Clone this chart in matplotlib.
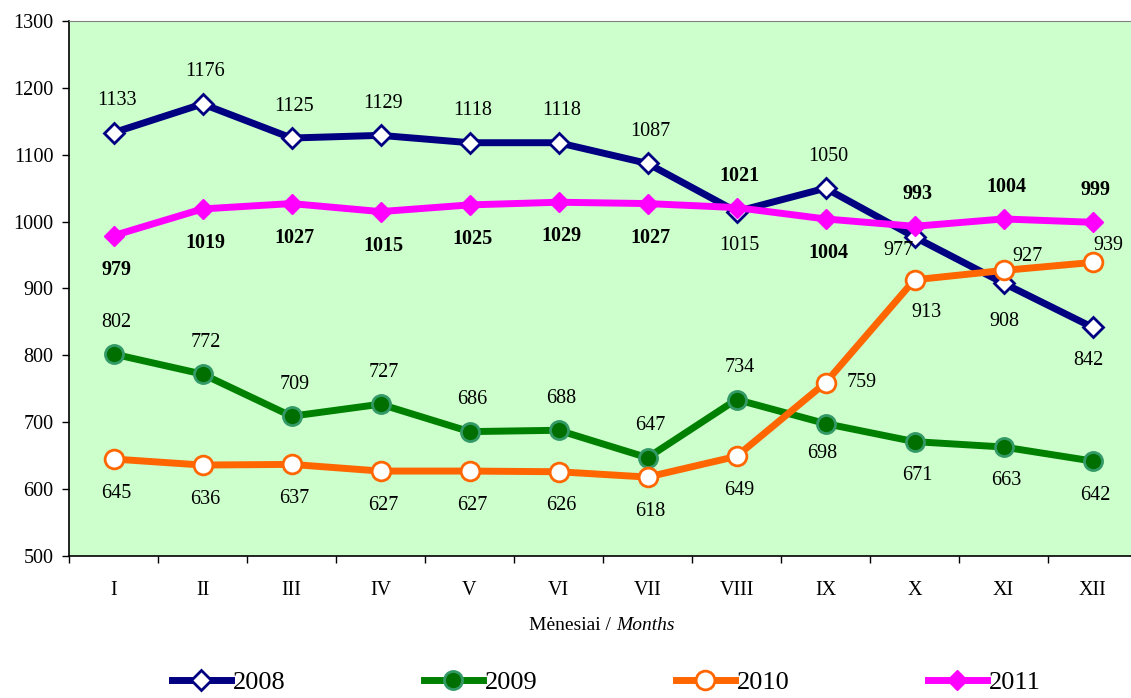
import matplotlib
matplotlib.use("Agg")
import matplotlib.pyplot as plt
from matplotlib.offsetbox import TextArea, HPacker, AnchoredOffsetbox

months = ["I", "II", "III", "IV", "V", "VI", "VII", "VIII", "IX", "X", "XI", "XII"]
s2008 = [1133, 1176, 1125, 1129, 1118, 1118, 1087, 1015, 1050, 977, 908, 842]
s2009 = [802, 772, 709, 727, 686, 688, 647, 734, 698, 671, 663, 642]
s2010 = [645, 636, 637, 627, 627, 626, 618, 649, 759, 913, 927, 939]
s2011 = [979, 1019, 1027, 1015, 1025, 1029, 1027, 1021, 1004, 993, 1004, 999]
series_names = ["2008", "2009", "2010", "2011"]
yticks = [500, 600, 700, 800, 900, 1000, 1100, 1200, 1300]

FONT = "Liberation Serif"
plt.rcParams["font.family"] = [FONT, "DejaVu Serif"]

fig = plt.figure(figsize=(11.31, 6.98), dpi=100)
ax = fig.add_axes([69/1131, 1-556/698, 1068/1131, 535/698])
ax.set_facecolor("#CCFFCC")

x = list(range(len(months)))
styles = [
    dict(color="#000080", lw=5, marker="D", ms=10, mfc="white", mec="#000080", mew=2),
    dict(color="#008000", lw=5, marker="o", ms=13, mfc="#006f00", mec="#339966", mew=2),
    dict(color="#FF6600", lw=5, marker="o", ms=13.5, mfc="white", mec="#FF6600", mew=2),
    dict(color="#FF00FF", lw=5, marker="D", ms=10.5, mfc="#FF00FF", mec="#FF00FF", mew=1),
]
data = [s2008, s2009, s2010, s2011]
handles = []
for d, st, name in zip(data, styles, series_names):
    h, = ax.plot(x, d, label=name, solid_joinstyle="miter", **st)
    handles.append(h)

A, B = (3, 32), (3, -34)
off2008 = [A, A, A, A, A, A, A, B, A, (-16, -13), (1, -38), (-4, -33)]
off2009 = [A, A, A, A, A, A, A, A, (-3, -30), B, B, B]
off2010 = [B, B, B, B, B, B, B, B, (36, 0), (12, -33), (24, 14), (16, 17)]
off2011 = [B, B, B, B, B, B, B, A, B, A, A, A]
offsets = [off2008, off2009, off2010, off2011]
weights = ["normal", "normal", "normal", "bold"]
for d, offs, w in zip(data, offsets, weights):
    for xi, (v, o) in enumerate(zip(d, offs)):
        ax.annotate(str(v), (xi, v), xytext=o, textcoords="offset pixels",
                    ha="center", va="center", fontsize=14.5, fontweight=w,
                    color="black", zorder=10)

ax.set_xlim(-0.5, 11.5)
ax.set_ylim(500, 1300)
ax.set_yticks(yticks)
ax.set_yticklabels([str(t) for t in yticks])
ax.set_xticks(x)
ax.set_xticklabels(months)
ax.set_xticks([i - 0.5 for i in range(13)], minor=True)
ax.tick_params(axis="x", which="major", length=0, pad=18, labelsize=14.5)
ax.tick_params(axis="x", which="minor", length=5, width=1, direction="out")
ax.tick_params(axis="y", length=5, width=1, direction="out", pad=6, labelsize=14.5)

for s in ["left", "bottom"]:
    ax.spines[s].set_color("black")
    ax.spines[s].set_linewidth(1.2)
ax.spines["top"].set_color("#808080")
ax.spines["right"].set_color("#808080")

t1 = TextArea("Mėnesiai / ", textprops=dict(fontsize=14, family=FONT))
t2 = TextArea("Months", textprops=dict(fontsize=14, family=FONT, style="italic"))
box = HPacker(children=[t1, t2], align="baseline", pad=0, sep=0)
ab = AnchoredOffsetbox(loc="center", child=box, pad=0, frameon=False,
                       bbox_to_anchor=(602/1131, 1-626/698),
                       bbox_transform=fig.transFigure, borderpad=0)
fig.add_artist(ab)

leg = fig.legend(handles=handles, labels=series_names, loc="center",
                 bbox_to_anchor=(606/1131, 1-682/698), ncol=4, frameon=False,
                 prop=dict(family=FONT, size=19), handlelength=2.25,
                 handletextpad=0.05, columnspacing=5.25, borderaxespad=0)

fig.savefig("out.png", dpi=100)
